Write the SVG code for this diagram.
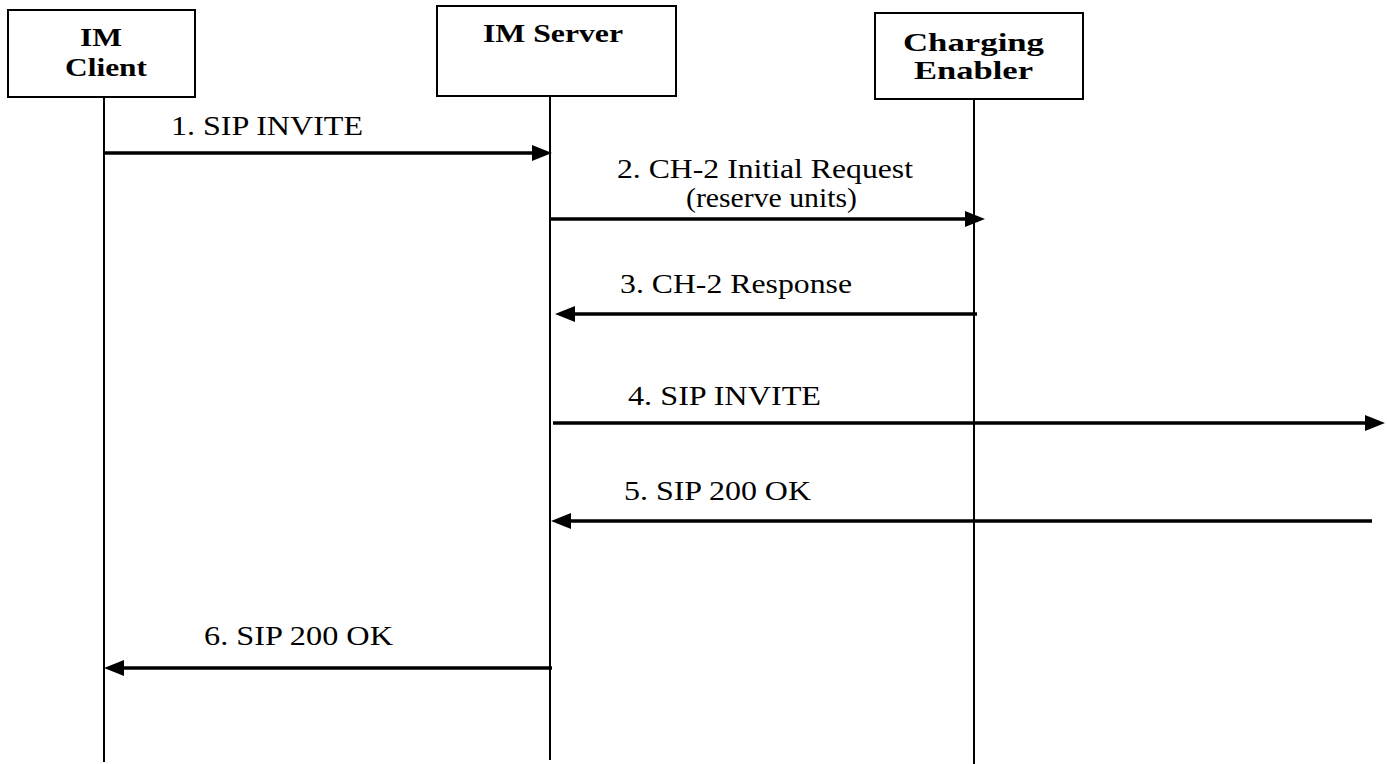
<svg xmlns="http://www.w3.org/2000/svg" width="1387" height="764" viewBox="0 0 1387 764">
<style>
.box{fill:#fff;stroke:#000;stroke-width:2}
.life{stroke:#000;stroke-width:2;fill:none}
.msg{stroke:#000;stroke-width:3.5;fill:none;marker-end:url(#ah)}
.hd{font-family:"Liberation Serif","Times New Roman",serif;font-weight:bold;font-size:25px;fill:#000}
.lb{font-family:"Liberation Serif","Times New Roman",serif;font-size:27px;fill:#000}
</style>
<defs>
<marker id="ah" viewBox="0 0 20 16" refX="5" refY="8" markerWidth="20" markerHeight="16" markerUnits="userSpaceOnUse" orient="auto">
<polygon points="0,0 20,8 0,16" fill="#000"/>
</marker>
</defs>
<rect width="1387" height="764" fill="#fff"/>
<g id="imclient">
<rect class="box" x="8" y="10" width="187" height="87"/>
<text class="hd" x="80" y="46" textLength="42" lengthAdjust="spacingAndGlyphs">IM</text>
<text class="hd" x="65" y="76" textLength="82" lengthAdjust="spacingAndGlyphs">Client</text>
<line class="life" x1="104" y1="97" x2="104" y2="762"/>
</g>
<g id="imserver">
<rect class="box" x="437" y="6" width="239" height="90"/>
<text class="hd" x="483" y="42" textLength="140" lengthAdjust="spacingAndGlyphs">IM Server</text>
<line class="life" x1="550" y1="96" x2="550" y2="760"/>
</g>
<g id="charging">
<rect class="box" x="875" y="13" width="208" height="86"/>
<text class="hd" x="903" y="51" textLength="141" lengthAdjust="spacingAndGlyphs">Charging</text>
<text class="hd" x="914" y="79" textLength="119" lengthAdjust="spacingAndGlyphs">Enabler</text>
<line class="life" x1="974" y1="99" x2="974" y2="764"/>
</g>
<g id="connectors">
<path class="msg" d="M104,153 H537"/>
<text class="lb" x="171" y="135" textLength="192" lengthAdjust="spacingAndGlyphs">1. SIP INVITE</text>
<path class="msg" d="M550,219 H970"/>
<text class="lb" x="617" y="178" textLength="296" lengthAdjust="spacingAndGlyphs">2. CH-2 Initial Request</text>
<text class="lb" x="686" y="207" textLength="171" lengthAdjust="spacingAndGlyphs">(reserve units)</text>
<path class="msg" d="M977,314 H570"/>
<text class="lb" x="620" y="293" textLength="232" lengthAdjust="spacingAndGlyphs">3. CH-2 Response</text>
<path class="msg" d="M553,423 H1370"/>
<text class="lb" x="628" y="405" textLength="193" lengthAdjust="spacingAndGlyphs">4. SIP INVITE</text>
<path class="msg" d="M1372,521 H566"/>
<text class="lb" x="624" y="500" textLength="187" lengthAdjust="spacingAndGlyphs">5. SIP 200 OK</text>
<path class="msg" d="M552,668 H119"/>
<text class="lb" x="204" y="645" textLength="189" lengthAdjust="spacingAndGlyphs">6. SIP 200 OK</text>
</g>
</svg>
